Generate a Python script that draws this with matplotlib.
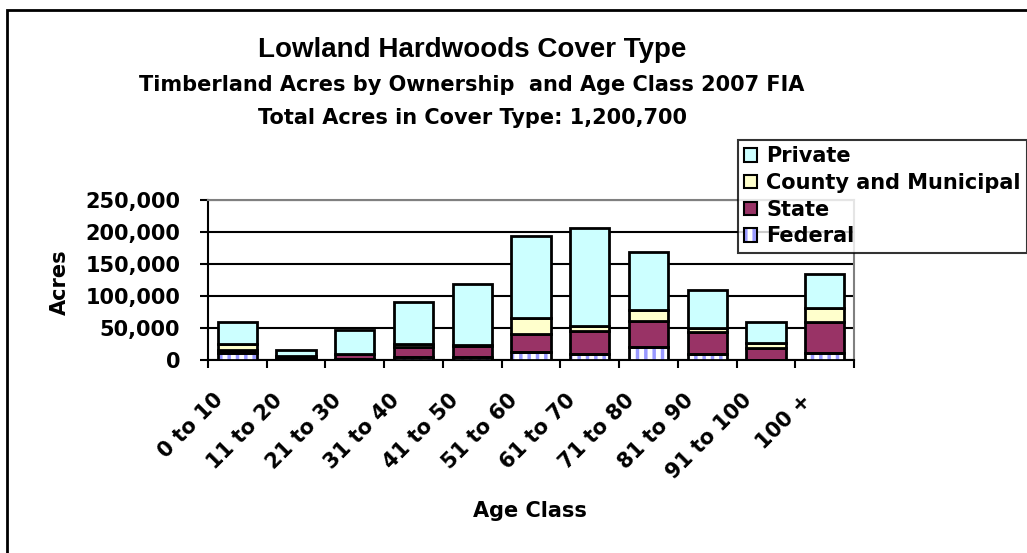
import matplotlib
matplotlib.use("Agg")
import matplotlib.pyplot as plt
from matplotlib.patches import Rectangle, Patch
from matplotlib.legend_handler import HandlerTuple
from matplotlib.ticker import FuncFormatter
from matplotlib.transforms import ScaledTranslation
import numpy as np

plt.rcParams['font.family'] = ['DejaVu Sans']
plt.rcParams['font.weight'] = 'bold'
plt.rcParams['hatch.linewidth'] = 2.5
plt.rcParams['hatch.color'] = '#9999FF'

age_classes = ['0 to 10', '11 to 20', '21 to 30', '31 to 40', '41 to 50', '51 to 60',
               '61 to 70', '71 to 80', '81 to 90', '91 to 100', '100 +']
federal = [11000, 1000, 2000, 5000, 5000, 12500, 9000, 21000, 9000, 500, 11500]
state = [4500, 5000, 7000, 15500, 16500, 28000, 37000, 40500, 34000, 18000, 48000]
county = [9000, 500, 1000, 5000, 2500, 24500, 7000, 17000, 6500, 7500, 22000]
private = [34500, 9000, 36500, 64500, 94000, 128500, 152500, 90000, 59500, 33000, 52500]

fig = plt.figure(figsize=(10.27, 5.53), dpi=100)
# outer chart frame (cut off at right and bottom in the original)
fig.patches.append(Rectangle((7 / 1027, -0.1), 1.2, 1 - 10 / 553 + 0.1, transform=fig.transFigure,
                             fill=False, edgecolor='black', linewidth=2, zorder=0))

ax = fig.add_axes([208 / 1027, 193 / 553, 646 / 1027, 160 / 553])
x = np.arange(len(age_classes))
w = 0.67
f = np.array(federal)
s = np.array(state)
c = np.array(county)
p = np.array(private)

ax.bar(x, f, w, color='white', edgecolor='#9999FF', hatch='||', linewidth=0, zorder=3)
ax.bar(x, f, w, fill=False, edgecolor='black', linewidth=2, zorder=4)
ax.bar(x, s, w, bottom=f, color='#993366', edgecolor='black', linewidth=2, zorder=3)
ax.bar(x, c, w, bottom=f + s, color='#FFFFCC', edgecolor='black', linewidth=2, zorder=3)
ax.bar(x, p, w, bottom=f + s + c, color='#CCFFFF', edgecolor='black', linewidth=2, zorder=3)

ax.set_xlim(-0.5, len(age_classes) - 0.5)
ax.set_ylim(0, 250000)
ax.set_yticks(np.arange(0, 250001, 50000))
ax.yaxis.set_major_formatter(FuncFormatter(lambda v, _: f'{int(v):,}'))
ax.grid(axis='y', color='black', linewidth=1.5, zorder=1)
ax.set_axisbelow(True)

ax.set_xticks(x)
ax.set_xticklabels(age_classes, rotation=45, ha='right', va='center', rotation_mode='anchor', fontsize=15)
ax.set_xticks(np.arange(-0.5, len(age_classes), 1), minor=True)
ax.tick_params(axis='x', which='major', length=0, pad=0)
ax.tick_params(axis='x', which='minor', length=6, width=1.5, direction='out')
ax.tick_params(axis='y', length=6, width=1.5, direction='out', labelsize=15, pad=14)
shift = ScaledTranslation(-0.17, -0.37, fig.dpi_scale_trans)
for lab in ax.get_xticklabels():
    lab.set_transform(lab.get_transform() + shift)

ax.spines['left'].set_linewidth(1.5)
ax.spines['bottom'].set_linewidth(1.5)
ax.spines['top'].set_color('#808080')
ax.spines['right'].set_color('#808080')
ax.spines['top'].set_linewidth(1.5)
ax.spines['right'].set_linewidth(1.5)

fig.text(60 / 1027, 1 - 282 / 553, 'Acres', rotation=90, ha='center', va='center', fontsize=15)
fig.text(530 / 1027, 1 - 511 / 553, 'Age Class', ha='center', va='center', fontsize=15)
fig.text(472 / 1027, 1 - 50 / 553, 'Lowland Hardwoods Cover Type', ha='center', va='center',
         fontsize=20, family=['Liberation Sans', 'DejaVu Sans'])
fig.text(472 / 1027, 1 - 85 / 553, 'Timberland Acres by Ownership  and Age Class 2007 FIA',
         ha='center', va='center', fontsize=15)
fig.text(472 / 1027, 1 - 118 / 553, 'Total Acres in Cover Type: 1,200,700',
         ha='center', va='center', fontsize=15)

handles = [Patch(facecolor='#CCFFFF', edgecolor='black', linewidth=1.5),
           Patch(facecolor='#FFFFCC', edgecolor='black', linewidth=1.5),
           Patch(facecolor='#993366', edgecolor='black', linewidth=1.5),
           (Patch(facecolor='white', hatch='||'),
            Patch(fill=False, edgecolor='black', linewidth=1.5))]
leg = fig.legend(handles, ['Private', 'County and Municipal', 'State', 'Federal'],
                 loc='upper left', bbox_to_anchor=(738 / 1027, 1 - 140 / 553),
                 handler_map={tuple: HandlerTuple(ndivide=1, pad=0)},
                 fontsize=15, frameon=True, fancybox=False, handlelength=0.6, handleheight=0.6,
                 handletextpad=0.45, labelspacing=0.32, borderpad=0.3, borderaxespad=0)
leg.get_frame().set_edgecolor('black')
leg.get_frame().set_linewidth(1.5)

fig.savefig('out.png', dpi=100)
